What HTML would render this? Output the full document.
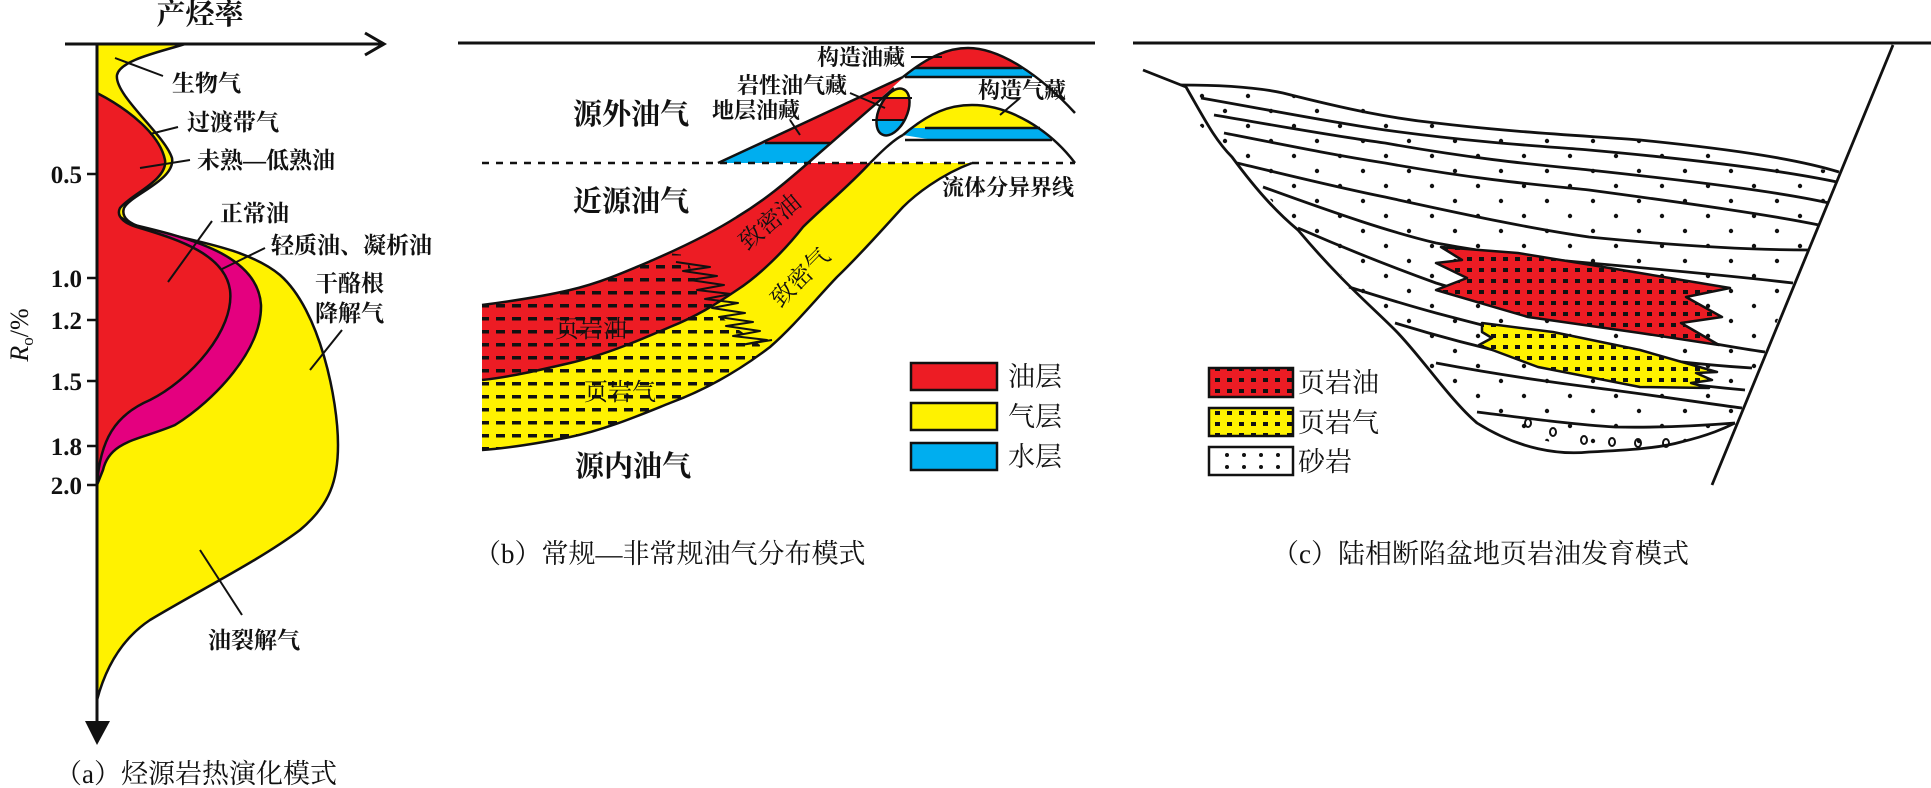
<!DOCTYPE html>
<html><head><meta charset="utf-8"><style>
html,body{margin:0;padding:0;background:#fff;}
svg{display:block;}
.b{font-family:"Liberation Serif","Noto Serif CJK SC",serif;font-weight:700;fill:#111;}
.n{font-family:"Liberation Serif","Noto Serif CJK SC",serif;fill:#111;}
</style></head><body>
<svg width="1931" height="788" viewBox="0 0 1931 788" xmlns="http://www.w3.org/2000/svg">
<defs>
<pattern id="dash" width="16" height="13" patternUnits="userSpaceOnUse"><rect x="0" y="5" width="9" height="3.5" fill="#111"/></pattern>
<pattern id="sq" width="12" height="11" patternUnits="userSpaceOnUse"><rect x="3" y="4" width="5" height="4" fill="#111"/></pattern>
<pattern id="dots" width="46" height="30" patternUnits="userSpaceOnUse"><circle cx="6" cy="6" r="2.2" fill="#111"/><circle cx="29" cy="21" r="2.2" fill="#111"/></pattern>
<clipPath id="bands"><path d="M482,305 C520,300 545,296 570,290 C600,283 625,272 653,260 C685,246 712,233 737,217 C765,200 785,183 808,163 L972,163 C940,175 915,195 903,207 C880,232 860,255 837,277 C815,300 795,325 770,347 C740,370 705,390 670,403 C640,415 605,430 570,437 C540,443 510,448 482,450 Z"/></clipPath>
<clipPath id="shale"><polygon points="470,230 685,255 700,290 725,320 760,345 745,470 470,470"/></clipPath>
<clipPath id="arch1"><path d="M903,77 C930,55 950,48 968,48 C1000,48 1040,75 1075,113 Z"/></clipPath>
<clipPath id="arch2"><path d="M903,135 C930,112 950,105 972,105 C1010,105 1050,130 1075,163 Z"/></clipPath>
<clipPath id="ell"><ellipse cx="893" cy="112" rx="14" ry="25" transform="rotate(25 893 112)"/></clipPath>
<clipPath id="basin"><path d="M1143,70 L1186,87 L1283,93 L1436,123 L1640,140 L1839,172 L1735,423 L1681,442 L1589,452 L1477,423 L1436,380 L1395,330 L1298,230 L1232,157 Z"/></clipPath>
</defs>

<!-- Panel a -->
<path d="M97,44 L185,44 C160,52 120,60 117,75 C114,95 165,135 172,158 C176,180 130,195 124,208 C120,220 135,226 150,230 C200,242 250,250 280,275 C320,310 338,400 338,445 C338,480 330,505 300,530 C260,560 200,590 150,620 C120,640 105,670 97,700 Z" fill="#fff200" stroke="#111" stroke-width="2.5"/>
<path d="M97,200 L130,224 C190,238 258,255 261,305 C262,350 215,400 175,425 C140,440 110,440 103,470 L97,485 Z" fill="#e4007f" stroke="#111" stroke-width="2.5"/>
<path d="M97,93 C130,110 160,135 165,160 C168,180 130,195 120,208 C115,218 128,225 140,228 C180,240 225,255 230,290 C235,330 190,380 150,400 C115,415 100,440 97,485 Z" fill="#ed1c24" stroke="#111" stroke-width="2.5"/>
<line x1="65" y1="44" x2="382" y2="44" stroke="#111" stroke-width="3"/>
<polyline points="365,33 384,44 365,55" fill="none" stroke="#111" stroke-width="3"/>
<line x1="97" y1="44" x2="97" y2="725" stroke="#111" stroke-width="3"/>
<polygon points="85,721 110,721 97,745" fill="#111"/>
<text x="200" y="24" class="b" font-size="29" text-anchor="middle">产烃率</text>
<g stroke="#111" stroke-width="2.5">
<line x1="87" y1="174" x2="97" y2="174"/><line x1="87" y1="278" x2="97" y2="278"/><line x1="87" y1="320" x2="97" y2="320"/><line x1="87" y1="381" x2="97" y2="381"/><line x1="87" y1="446" x2="97" y2="446"/><line x1="87" y1="485" x2="97" y2="485"/>
</g>
<g class="b" font-size="25" text-anchor="end">
<text x="82" y="183">0.5</text><text x="82" y="287">1.0</text><text x="82" y="329">1.2</text><text x="82" y="390">1.5</text><text x="82" y="455">1.8</text><text x="82" y="494">2.0</text>
</g>
<text transform="translate(28,335) rotate(-90)" class="n" font-size="26" text-anchor="middle"><tspan font-style="italic">R</tspan><tspan font-size="17" dy="5">o</tspan><tspan dy="-5">/%</tspan></text>
<g stroke="#111" stroke-width="2">
<line x1="115" y1="58" x2="163" y2="76"/><line x1="150" y1="134" x2="178" y2="127"/><line x1="140" y1="168" x2="190" y2="160"/><line x1="168" y1="282" x2="212" y2="221"/><line x1="222" y1="269" x2="265" y2="248"/><line x1="310" y1="370" x2="342" y2="330"/><line x1="200" y1="550" x2="242" y2="615"/>
</g>
<g class="b" font-size="23">
<text x="172" y="91">生物气</text><text x="187" y="130">过渡带气</text><text x="197" y="168">未熟—低熟油</text><text x="220" y="221">正常油</text><text x="271" y="253">轻质油、凝析油</text><text x="315" y="291">干酪根</text><text x="315" y="321">降解气</text><text x="208" y="648">油裂解气</text>
</g>
<text x="55" y="783" class="n" font-size="27">（a）烃源岩热演化模式</text>

<!-- Panel b -->
<line x1="458" y1="43" x2="1095" y2="43" stroke="#111" stroke-width="3"/>
<path d="M482,305 C520,300 545,296 570,290 C600,283 625,272 653,260 C685,246 712,233 737,217 C765,200 785,183 808,163 L870,163 C850,185 820,210 803,227 C785,250 760,275 737,290 C715,305 695,317 670,327 C640,340 605,355 570,363 C540,370 510,377 482,380 Z" fill="#ed1c24"/>
<path d="M482,380 C510,377 540,370 570,363 C605,355 640,340 670,327 C695,317 715,305 737,290 C760,275 785,250 803,227 C820,210 850,185 870,163 L972,163 C940,175 915,195 903,207 C880,232 860,255 837,277 C815,300 795,325 770,347 C740,370 705,390 670,403 C640,415 605,430 570,437 C540,443 510,448 482,450 Z" fill="#fff200"/>
<g clip-path="url(#bands)"><rect x="470" y="230" width="320" height="240" fill="url(#dash)" clip-path="url(#shale)"/></g>
<g fill="none" stroke="#111" stroke-width="2.5">
<path d="M482,305 C520,300 545,296 570,290 C600,283 625,272 653,260 C685,246 712,233 737,217 C765,200 785,183 808,163"/>
<path d="M870,163 C850,185 820,210 803,227 C785,250 760,275 737,290 C715,305 695,317 670,327 C640,340 605,355 570,363 C540,370 510,377 482,380"/>
<path d="M972,163 C940,175 915,195 903,207 C880,232 860,255 837,277 C815,300 795,325 770,347 C740,370 705,390 670,403 C640,415 605,430 570,437 C540,443 510,448 482,450"/>
</g>
<!-- wedge -->
<polygon points="718,163 808,163 903,78" fill="#ed1c24"/>
<polygon points="718,163 808,163 830,143 765,143" fill="#00aeef"/>
<g stroke="#111" stroke-width="2.5" fill="none">
<line x1="718" y1="163" x2="903" y2="77"/><line x1="808" y1="163" x2="894" y2="88"/><line x1="765" y1="143" x2="830" y2="143"/>
<path d="M870,163 C880,153 893,140 903,135"/>
</g>
<!-- arches -->
<g clip-path="url(#arch1)"><rect x="895" y="40" width="190" height="28" fill="#ed1c24"/><rect x="895" y="68" width="190" height="9" fill="#00aeef"/></g>
<g clip-path="url(#arch2)"><rect x="895" y="100" width="190" height="28" fill="#fff200"/><rect x="895" y="128" width="190" height="12" fill="#00aeef"/></g>
<g stroke="#111" stroke-width="2.5" fill="none">
<path d="M903,77 C930,55 950,48 968,48 C1000,48 1040,75 1075,113"/>
<path d="M903,135 C930,112 950,105 972,105 C1010,105 1050,130 1075,163"/>
<line x1="915" y1="68" x2="1022" y2="68"/><line x1="905" y1="77" x2="1032" y2="77"/>
<line x1="925" y1="128" x2="1040" y2="128"/><line x1="905" y1="140" x2="1052" y2="140"/>
</g>
<g clip-path="url(#ell)"><rect x="860" y="80" width="70" height="18" fill="#fff200"/><rect x="860" y="98" width="70" height="22" fill="#ed1c24"/><rect x="860" y="120" width="70" height="25" fill="#00aeef"/></g>
<g stroke="#111" stroke-width="2" fill="none">
<line x1="872" y1="98" x2="912" y2="98"/><line x1="872" y1="120" x2="905" y2="120"/>
<ellipse cx="893" cy="112" rx="14" ry="25" transform="rotate(25 893 112)" stroke-width="2.5"/>
</g>
<line x1="482" y1="163" x2="1075" y2="163" stroke="#111" stroke-width="2.5" stroke-dasharray="7,7"/>
<polyline points="676,262 710,267 683,271 717,276 690,280 724,285 697,290 731,294 705,299 738,303 712,308 745,313 719,317 753,322 726,326 760,331 733,336 767,340 741,345 772,340" fill="none" stroke="#111" stroke-width="2" stroke-linejoin="round"/>
<g stroke="#111" stroke-width="2">
<line x1="911" y1="57" x2="942" y2="57"/><line x1="850" y1="93" x2="885" y2="108"/><line x1="790" y1="120" x2="800" y2="135"/><line x1="1020" y1="98" x2="1000" y2="115"/>
</g>
<g class="b" font-size="29"><text x="573" y="124">源外油气</text><text x="573" y="211">近源油气</text><text x="575" y="476">源内油气</text></g>
<g class="n" font-size="22" font-weight="700">
<text x="817" y="65">构造油藏</text><text x="737" y="93">岩性油气藏</text><text x="712" y="118">地层油藏</text><text x="978" y="98">构造气藏</text><text x="942" y="195">流体分异界线</text>
</g>
<text transform="translate(775,228) rotate(-40)" class="n" font-size="24" text-anchor="middle">致密油</text>
<text transform="translate(806,283) rotate(-45)" class="n" font-size="24" text-anchor="middle">致密气</text>
<text x="591" y="337" class="n" font-size="24" text-anchor="middle">页岩油</text>
<text x="620" y="400" class="n" font-size="24" text-anchor="middle">页岩气</text>
<g stroke="#111" stroke-width="2.5">
<rect x="911" y="363" width="86" height="27" fill="#ed1c24"/><rect x="911" y="403" width="86" height="27" fill="#fff200"/><rect x="911" y="443" width="86" height="27" fill="#00aeef"/>
</g>
<g class="n" font-size="27"><text x="1008" y="386">油层</text><text x="1008" y="426">气层</text><text x="1008" y="466">水层</text></g>
<text x="474" y="563" class="n" font-size="27">（b）常规—非常规油气分布模式</text>

<!-- Panel c -->
<line x1="1133" y1="43" x2="1931" y2="43" stroke="#111" stroke-width="3"/>
<rect x="1130" y="60" width="800" height="400" fill="url(#dots)" clip-path="url(#basin)"/>
<g fill="none" stroke="#111" stroke-width="2.8" stroke-linejoin="round">
<polyline points="1893,45 1712,485"/>
<path d="M1143,70 L1186,87 C1205,120 1215,140 1232,157 C1260,195 1280,215 1298,230 C1340,280 1370,305 1395,330 C1420,355 1450,400 1477,423 C1520,450 1560,455 1589,452 C1630,450 1660,448 1681,442 C1710,435 1725,428 1735,423"/>
<path d="M1181,85 C1230,85 1260,88 1283,93 C1350,110 1390,118 1436,123 C1520,133 1590,136 1640,140 C1740,150 1800,160 1839,172"/>
<path d="M1201,98 C1280,112 1330,122 1385,130 C1480,143 1540,146 1589,150 C1700,160 1780,170 1837,182"/>
<path d="M1214,115 C1290,128 1340,137 1385,143 C1480,160 1540,165 1589,170 C1700,182 1780,192 1829,203"/>
<path d="M1224,133 C1300,148 1340,156 1385,163 C1480,180 1540,185 1589,190 C1700,205 1770,215 1819,225"/>
<path d="M1237,163 C1300,178 1340,188 1385,197 C1480,218 1540,230 1589,237 C1700,248 1770,250 1809,250"/>
<path d="M1263,187 C1340,215 1390,232 1436,243 C1500,255 1550,260 1589,263 C1690,272 1750,278 1793,283"/>
<path d="M1298,228 C1360,255 1400,270 1436,283 C1500,303 1550,312 1589,320 C1680,338 1730,347 1765,352"/>
<path d="M1349,287 C1390,300 1410,306 1436,313 C1500,330 1550,342 1589,350 C1670,362 1720,366 1752,368"/>
<path d="M1395,323 C1450,340 1500,352 1538,360 C1630,378 1700,386 1745,390"/>
<path d="M1436,363 C1500,375 1550,382 1589,387 C1660,396 1710,404 1742,408"/>
<path d="M1477,412 C1540,420 1580,425 1615,427 C1670,428 1710,425 1735,423"/>
</g>
<polygon points="1441,247 1518,253 1640,273 1730,288 1686,297 1722,317 1681,323 1719,345 1640,333 1528,317 1436,290 1467,278 1436,263 1462,260" fill="#ed1c24" stroke="#111" stroke-width="2.5" stroke-linejoin="round"/>
<polygon points="1441,247 1518,253 1640,273 1730,288 1686,297 1722,317 1681,323 1719,345 1640,333 1528,317 1436,290 1467,278 1436,263 1462,260" fill="url(#sq)"/>
<polygon points="1482,323 1553,332 1640,350 1717,372 1696,373 1712,380 1691,383 1709,388 1640,387 1538,367 1479,345 1492,338 1482,332" fill="#fff200" stroke="#111" stroke-width="2.5" stroke-linejoin="round"/>
<polygon points="1482,323 1553,332 1640,350 1717,372 1696,373 1712,380 1691,383 1709,388 1640,387 1538,367 1479,345 1492,338 1482,332" fill="url(#sq)"/>
<g fill="none" stroke="#111" stroke-width="2">
<ellipse cx="1528" cy="423" rx="3" ry="4"/><ellipse cx="1553" cy="432" rx="3" ry="4"/><ellipse cx="1584" cy="440" rx="3" ry="4"/><ellipse cx="1612" cy="442" rx="3" ry="4"/><ellipse cx="1638" cy="443" rx="3" ry="4"/><ellipse cx="1666" cy="443" rx="3" ry="4"/>
</g>
<g stroke="#111" stroke-width="2.5">
<rect x="1209" y="368" width="84" height="29" fill="#ed1c24"/><rect x="1209" y="408" width="84" height="28" fill="#fff200"/><rect x="1209" y="447" width="84" height="28" fill="#fff"/>
</g>
<rect x="1209" y="368" width="84" height="29" fill="url(#sq)"/>
<rect x="1209" y="408" width="84" height="28" fill="url(#sq)"/>
<g fill="#111"><circle cx="1227" cy="455" r="2"/><circle cx="1244" cy="455" r="2"/><circle cx="1261" cy="455" r="2"/><circle cx="1278" cy="455" r="2"/><circle cx="1227" cy="467" r="2"/><circle cx="1244" cy="467" r="2"/><circle cx="1261" cy="467" r="2"/><circle cx="1278" cy="467" r="2"/></g>
<g class="n" font-size="27"><text x="1298" y="392">页岩油</text><text x="1298" y="432">页岩气</text><text x="1298" y="471">砂岩</text></g>
<text x="1272" y="563" class="n" font-size="27">（c）陆相断陷盆地页岩油发育模式</text>
</svg>
</body></html>
